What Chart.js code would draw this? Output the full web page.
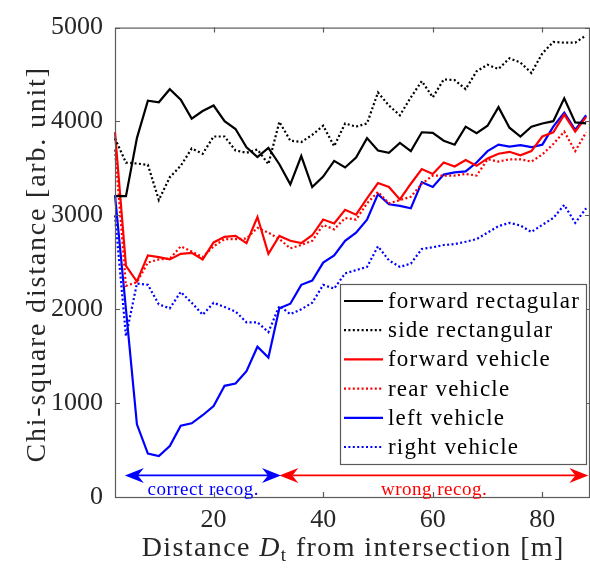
<!DOCTYPE html>
<html><head><meta charset="utf-8">
<script src="https://cdn.jsdelivr.net/npm/chart.js@4/dist/chart.umd.min.js"></script>
<style>html,body{margin:0;padding:0;background:#fff;overflow:hidden}</style>
</head><body>
<canvas id="c" width="590" height="571" style="width:590px;height:571px;display:block"></canvas>
<script>
// ---- data ----
const distances = [2,4,6,8,10,12,14,16,18,20,22,24,26,28,30,32,34,36,38,40,42,44,46,48,50,52,54,56,58,60,62,64,66,68,70,72,74,76,78,80,82,84,86,88];
const forwardRectangular = [3205,3205,3823,4222,4205,4344,4232,4031,4111,4170,4003,3920,3726,3621,3719,3545,3330,3632,3302,3413,3580,3510,3615,3823,3691,3667,3771,3684,3885,3878,3795,3753,3945,3875,3955,4153,3934,3840,3945,3979,4003,4247,3990,3979];
const sideRectangular = [3820,3562,3552,3538,3163,3406,3528,3712,3656,3840,3840,3691,3667,3701,3545,3997,3795,3781,3857,3955,3736,3979,3945,3979,4309,4170,4066,4257,4430,4257,4448,4441,4344,4535,4604,4559,4673,4628,4517,4726,4847,4840,4840,4917];
const forwardVehicle = [3885,2461,2295,2573,2555,2531,2590,2601,2531,2712,2771,2781,2705,2982,2590,2781,2729,2705,2788,2955,2913,3059,3007,3180,3344,3302,3170,3337,3493,3441,3563,3521,3590,3528,3607,3656,3677,3639,3684,3840,3885,4073,3892,4049];
const rearVehicle = [3700,2250,2288,2497,2531,2538,2670,2615,2556,2670,2747,2747,2753,2868,2816,2747,2649,2684,2729,2899,2851,2972,2955,3128,3250,3128,3163,3198,3337,3424,3424,3424,3441,3424,3597,3573,3597,3597,3573,3649,3760,3892,3684,3885];
const leftVehicle = [3215,2000,774,462,437,542,760,785,871,969,1184,1208,1340,1601,1486,2010,2059,2260,2305,2497,2573,2729,2816,2955,3226,3118,3101,3076,3354,3302,3434,3458,3469,3563,3684,3753,3733,3747,3726,3753,3945,4094,3910,4066];
const rightVehicle = [3000,1712,2274,2260,2052,2010,2184,2069,1941,2069,2024,1976,1861,1861,1757,2035,1948,2000,2069,2260,2219,2382,2417,2451,2670,2521,2451,2486,2642,2660,2684,2694,2719,2747,2816,2885,2920,2892,2823,2899,2972,3111,2920,3076];
const seriesLabels = ['forward rectagular','side rectangular','forward vehicle','rear vehicle','left vehicle','right vehicle'];
const xTicks = [20,40,60,80];
const yTicks = [0,1000,2000,3000,4000,5000];
const xRange = [2, 88.7];
const yRange = [0, 5000];
const yTitle = 'Chi-square distance [arb. unit]';
// annotation (data units)
const arrowLevel = 230;
const textLevel = 22;
const correctRange = [3.8, 32.3];
const wrongRange = [32.0, 88.4];
const correctText = 'correct recog.';
const wrongText = 'wrong recog.';

const SERIF = '"Liberation Serif", "Times New Roman", serif';
const DOT = [2, 2.4];
function pts(arr){ return arr.map((v,i)=>({x:distances[i], y:v})); }
function ds(label, arr, color, dotted){
  return {label, data: pts(arr), borderColor: color, backgroundColor: color, borderWidth: 2.2,
    borderDash: dotted ? DOT : [], pointRadius: 0, tension: 0, fill: false, clip: 4,
    borderCapStyle: 'butt', borderJoinStyle: 'miter'};
}
const datasets = [
  ds(seriesLabels[0], forwardRectangular, '#000000', false),
  ds(seriesLabels[1], sideRectangular, '#000000', true),
  ds(seriesLabels[2], forwardVehicle, '#ff0000', false),
  ds(seriesLabels[3], rearVehicle, '#ff0000', true),
  ds(seriesLabels[4], leftVehicle, '#0000ff', false),
  ds(seriesLabels[5], rightVehicle, '#0000ff', true),
];

const AXIS = '#5a5a5a';
const TXT = '#262626';

function spacedWidth(ctx, text, sp){
  let w = 0; for (const ch of text) w += ctx.measureText(ch).width + sp; return w - sp;
}
function drawSpaced(ctx, text, x, y, sp){
  for (const ch of text){ ctx.fillText(ch, x, y); x += ctx.measureText(ch).width + sp; }
  return x;
}

const framePlugin = {
  id: 'frame',
  afterDatasetsDraw(chart){
    const {ctx, chartArea: a, scales} = chart;
    ctx.save();
    ctx.strokeStyle = AXIS; ctx.lineWidth = 1.2; ctx.setLineDash([]);
    ctx.strokeRect(a.left + 0.5, a.top + 0.5, a.right - a.left - 1, a.bottom - a.top);
    const tl = 5;
    ctx.beginPath();
    xTicks.forEach(v => {
      const p = Math.round(scales.x.getPixelForValue(v)) + 0.5;
      ctx.moveTo(p, a.bottom); ctx.lineTo(p, a.bottom - tl);
      ctx.moveTo(p, a.top); ctx.lineTo(p, a.top + tl);
    });
    yTicks.forEach(v => {
      const p = Math.round(scales.y.getPixelForValue(v)) + 0.5;
      ctx.moveTo(a.left, p); ctx.lineTo(a.left + tl, p);
      ctx.moveTo(a.right, p); ctx.lineTo(a.right - tl, p);
    });
    ctx.stroke();

    // recognition arrows
    const y = scales.y.getPixelForValue(arrowLevel);
    function arrow(x1, x2, color){
      ctx.strokeStyle = color; ctx.fillStyle = color; ctx.lineWidth = 1.6;
      const L = 19, W = 7.5, N = 13;
      ctx.beginPath(); ctx.moveTo(x1 + N, y); ctx.lineTo(x2 - N, y); ctx.stroke();
      const head = (tip, dir) => {
        ctx.beginPath();
        ctx.moveTo(tip, y);
        ctx.lineTo(tip + dir*L, y - W);
        ctx.lineTo(tip + dir*N, y);
        ctx.lineTo(tip + dir*L, y + W);
        ctx.closePath(); ctx.fill();
      };
      head(x1, 1); head(x2, -1);
    }
    const cx1 = scales.x.getPixelForValue(correctRange[0]), cx2 = scales.x.getPixelForValue(correctRange[1]);
    const wx1 = scales.x.getPixelForValue(wrongRange[0]), wx2 = scales.x.getPixelForValue(wrongRange[1]);
    arrow(wx1, wx2, '#ff0000');
    arrow(cx1, cx2, '#0000ff');
    const ty = scales.y.getPixelForValue(textLevel);
    ctx.font = '19px ' + SERIF; ctx.textAlign = 'left'; ctx.textBaseline = 'alphabetic';
    const sp = 0.5;
    let w = spacedWidth(ctx, correctText, sp);
    ctx.fillStyle = '#0000ff'; drawSpaced(ctx, correctText, (cx1 + cx2)/2 - w/2, ty, sp);
    w = spacedWidth(ctx, wrongText, sp);
    ctx.fillStyle = '#ff0000'; drawSpaced(ctx, wrongText, (wx1 + wx2)/2 - w/2, ty, sp);
    ctx.restore();
  },
  afterDraw(chart){
    const {ctx, chartArea: a} = chart;
    ctx.save();
    // legend
    const bx = 340, by = 284, bw = 246, bh = 180, row = 29.2, first = 301;
    ctx.fillStyle = '#fff'; ctx.fillRect(bx, by, bw, bh);
    ctx.strokeStyle = AXIS; ctx.lineWidth = 1.2; ctx.strokeRect(bx + 0.5, by + 0.5, bw, bh);
    chart.data.datasets.forEach((d, i) => {
      const yy = first + i*row;
      ctx.strokeStyle = d.borderColor; ctx.lineWidth = 2.2; ctx.setLineDash(d.borderDash);
      ctx.beginPath(); ctx.moveTo(344, yy); ctx.lineTo(383, yy); ctx.stroke();
      ctx.setLineDash([]);
      ctx.fillStyle = '#000'; ctx.font = '23px ' + SERIF; ctx.textAlign = 'left'; ctx.textBaseline = 'middle';
      drawSpaced(ctx, d.label, 388, yy + 1, 1.2);
    });
    // x title with italic D and subscript t
    const SP = 1.4;
    const parts = [
      {t:'Distance ', f:'28px ' + SERIF, dy:0},
      {t:'D', f:'italic 28px ' + SERIF, dy:0},
      {t:'t', f:'19px ' + SERIF, dy:5},
      {t:' from intersection [m]', f:'28px ' + SERIF, dy:0},
    ];
    let total = 0;
    parts.forEach(p => { ctx.font = p.f; p.w = spacedWidth(ctx, p.t, SP) + SP; total += p.w; });
    total -= SP;
    let x = (a.left + a.right)/2 - total/2;
    const base = 556;
    ctx.fillStyle = TXT; ctx.textAlign = 'left'; ctx.textBaseline = 'alphabetic';
    parts.forEach(p => { ctx.font = p.f; drawSpaced(ctx, p.t, x, base + p.dy, SP); x += p.w; });
    // y title
    ctx.save();
    ctx.font = '28px ' + SERIF;
    const ysp = 1.8;
    const yw = spacedWidth(ctx, yTitle, ysp);
    ctx.translate(45, (a.top + a.bottom)/2 + 3);
    ctx.rotate(-Math.PI/2);
    drawSpaced(ctx, yTitle, -yw/2, 0, ysp);
    ctx.restore();
    ctx.restore();
  }
};

new Chart(document.getElementById('c'), {
  type: 'line',
  data: { datasets },
  options: {
    responsive: false, animation: false, devicePixelRatio: 1,
    layout: { padding: { top: 17, right: 0, left: 0, bottom: 0 } },
    plugins: { legend: { display: false }, tooltip: { enabled: false } },
    scales: {
      x: {
        type: 'linear', position: 'bottom', min: xRange[0], max: xRange[1],
        grid: { display: false, drawTicks: false }, border: { display: false },
        afterBuildTicks: s => { s.ticks = xTicks.map(v => ({value: v})); },
        afterFit: s => { s.height = 74; },
        ticks: { color: TXT, padding: 8, maxRotation: 0, font: { family: SERIF, size: 26 },
          callback: v => String(v) },
      },
      y: {
        type: 'linear', position: 'left', min: yRange[0], max: yRange[1],
        grid: { display: false, drawTicks: false }, border: { display: false },
        afterBuildTicks: s => { s.ticks = yTicks.map(v => ({value: v})); },
        afterFit: s => { s.width = 115; },
        ticks: { color: TXT, padding: 12, font: { family: SERIF, size: 26 },
          callback: v => String(v) },
      }
    }
  },
  plugins: [framePlugin]
});
</script>
</body></html>
